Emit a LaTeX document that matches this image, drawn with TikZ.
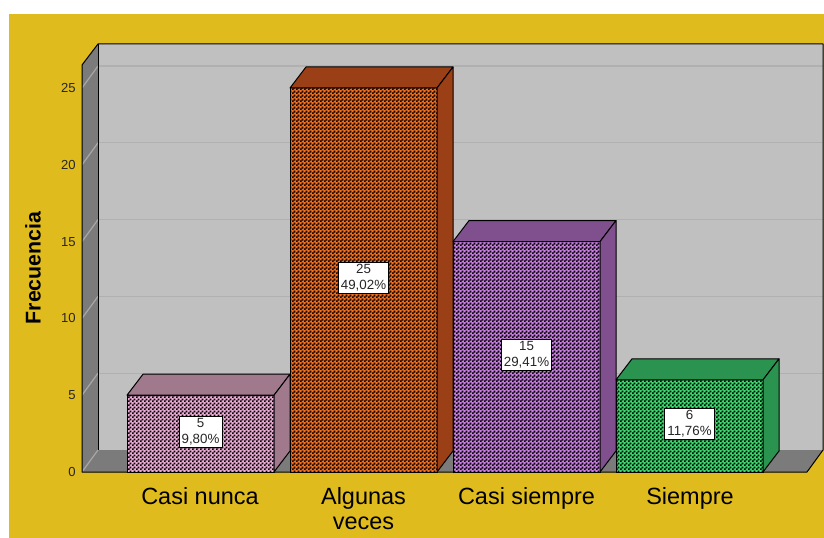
\documentclass[tikz,border=0pt]{standalone}
\usepackage{fontspec}
\setmainfont{Liberation Sans}
\usetikzlibrary{patterns}
\pgfdeclarepatternformonly{chk}{\pgfqpoint{0pt}{0pt}}{\pgfqpoint{3pt}{3pt}}{\pgfqpoint{3pt}{3pt}}{%
  \pgfpathrectangle{\pgfqpoint{-0.1pt}{-0.1pt}}{\pgfqpoint{1.7pt}{1.7pt}}%
  \pgfpathrectangle{\pgfqpoint{1.4pt}{1.4pt}}{\pgfqpoint{1.7pt}{1.7pt}}%
  \pgfusepath{fill}%
}
\definecolor{bgyellow}{HTML}{E0BB1D}
\definecolor{wallc}{HTML}{C0C0C0}
\definecolor{sidec}{HTML}{7B7B7B}
\definecolor{gridb}{HTML}{B0B0B0}
\definecolor{gridl}{HTML}{A8A8A8}
\definecolor{cAf}{HTML}{EBAAD5}
\definecolor{cAd}{HTML}{A07A8C}
\definecolor{cBf}{HTML}{F46C1C}
\definecolor{cBd}{HTML}{9B3F17}
\definecolor{cCf}{HTML}{C97DE2}
\definecolor{cCd}{HTML}{7F4F8E}
\definecolor{cDf}{HTML}{3CD86C}
\definecolor{cDd}{HTML}{2B9350}
\begin{document}
\begin{tikzpicture}[x=0.75pt,y=-0.75pt,
  edge/.style={draw=black, line width=0.75pt, line join=round},
  gridback/.style={draw=gridb, line width=0.9pt},
  gridleft/.style={draw=gridl, line width=0.9pt},
  ticklbl/.style={anchor=east, inner sep=0pt, font=\fontsize{9.8pt}{11pt}\selectfont, text=black!85},
  catlbl/.style={anchor=north, inner sep=0pt, align=center, font=\fontsize{17.6pt}{19pt}\selectfont},
  axtitle/.style={rotate=90, inner sep=0pt, font=\bfseries\fontsize{16pt}{18pt}\selectfont},
  datalbl/.style={draw=black, line width=0.6pt, fill=white, align=center, inner xsep=2pt, inner ysep=1.6pt,
    text=black!85, font=\fontsize{10pt}{12pt}\selectfont}]
\useasboundingbox (0,0) rectangle (824,538);
\fill[white] (0,0) rectangle (824,538);
\fill[bgyellow] (9,14) rectangle (824,538);
% walls and floor
\fill[wallc] (98,44) rectangle (823,450);
\fill[sidec] (82,65) -- (98,44) -- (98,450) -- (82,472) -- cycle;
\fill[sidec] (82,472) -- (98,450) -- (823,450) -- (807,472) -- cycle;
\foreach \v in {5,10,...,25} {
  \pgfmathsetmacro\yb{450-\v*15.36}
  \pgfmathsetmacro\yf{472-\v*15.36}
  \draw[gridback] (98,\yb) -- (823,\yb);
  \draw[gridleft] (82,\yf) -- (98,\yb);
}
\draw[gridleft] (82,472) -- (98,450);
\draw[edge] (82,472) -- (82,65) -- (98,44) -- (823,44) -- (823,450) -- (807,472) -- cycle;
\draw[edge] (98,44) -- (98,450);
% tick labels
\foreach \v in {0,5,...,25} {
  \node[ticklbl] (t\v) at (76,{472-\v*15.36}) {\v};
}
\node[axtitle] (ytitle) at (33,268) {Frecuencia};
% bars
\foreach \xl/\v/\fc/\dc/\n/\p [count=\i] in {127/5/cAf/cAd/5/{9,80\%}, 290/25/cBf/cBd/25/{49,02\%}, 453/15/cCf/cCd/15/{29,41\%}, 616/6/cDf/cDd/6/{11,76\%}} {
  \pgfmathsetmacro\t{472-\v*15.36}
  \pgfmathsetmacro\xr{\xl+147}
  \fill[\fc] (\xl,472) rectangle (\xr,\t);
  \fill[pattern=chk, pattern color=black] (\xl,472) rectangle (\xr,\t);
  \draw[edge] (\xl,472) rectangle (\xr,\t);
  \filldraw[edge, fill=\dc] (\xl,\t) -- (\xl+16,\t-21) -- (\xr+16,\t-21) -- (\xr,\t) -- cycle;
  \filldraw[edge, fill=\dc] (\xr,\t) -- (\xr+16,\t-21) -- (\xr+16,451) -- (\xr,472) -- cycle;
  \node[datalbl] (d\i) at (\xl+73.5,{(472+\t)/2-2}) {\n\\\p};
}
% category labels
\node[catlbl] (c1) at (200,487) {Casi nunca};
\node[catlbl] (c2) at (363.5,487) {Algunas\\veces};
\node[catlbl] (c3) at (526.5,487) {Casi siempre};
\node[catlbl] (c4) at (690,487) {Siempre};
\end{tikzpicture}
\end{document}
